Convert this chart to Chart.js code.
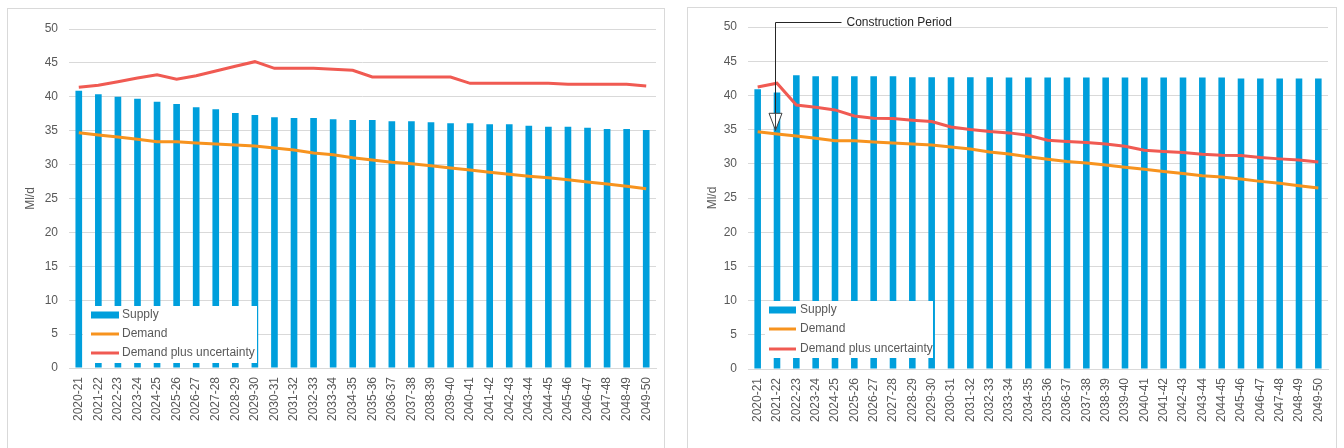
<!DOCTYPE html>
<html>
<head>
<meta charset="utf-8">
<script src="https://cdn.jsdelivr.net/npm/chart.js@4"></script>
<style>
  body { margin: 0; background: #fff; }
  .panel { position: absolute; border: 1px solid #d9d9d9; overflow: hidden; background: #fff; }
  #panel-a { left: 7px; top: 8px; width: 656px; height: 440px; }
  #panel-b { left: 687px; top: 7px; width: 648px; height: 440px; }
</style>
</head>
<body>
<div class="panel" id="panel-a"><canvas id="chart-a" width="656" height="440"></canvas></div>
<div class="panel" id="panel-b"><canvas id="chart-b" width="648" height="440"></canvas></div>
<script>
// Supply / demand balance, without and with the new scheme

const years = [
  '2020-21','2021-22','2022-23','2023-24','2024-25','2025-26','2026-27','2027-28','2028-29','2029-30',
  '2030-31','2031-32','2032-33','2033-34','2034-35','2035-36','2036-37','2037-38','2038-39','2039-40',
  '2040-41','2041-42','2042-43','2043-44','2044-45','2045-46','2046-47','2047-48','2048-49','2049-50'
];

const demand = [
  34.7, 34.37, 34.07, 33.73, 33.38, 33.38, 33.19, 33.04, 32.89, 32.74,
  32.45, 32.15, 31.71, 31.44, 31.02, 30.68, 30.33, 30.13, 29.84, 29.5,
  29.2, 28.86, 28.57, 28.27, 28.07, 27.77, 27.43, 27.14, 26.8, 26.45
];

// left chart
const supplyA = [
  40.9, 40.37, 40.02, 39.72, 39.28, 38.94, 38.45, 38.16, 37.61, 37.32,
  36.97, 36.87, 36.87, 36.7, 36.58, 36.58, 36.38, 36.38, 36.23, 36.09,
  36.09, 35.94, 35.94, 35.74, 35.59, 35.59, 35.44, 35.25, 35.25, 35.1
];
const demandUncA = [
  41.4, 41.69, 42.23, 42.77, 43.26, 42.58, 43.1, 43.8, 44.5, 45.18,
  44.2, 44.2, 44.2, 44.05, 43.9, 42.92, 42.92, 42.92, 42.92, 42.92,
  41.99, 41.99, 41.99, 41.99, 41.99, 41.84, 41.84, 41.84, 41.84, 41.6
];

// right chart
const supplyB = [
  40.9, 40.42, 42.95, 42.8, 42.8, 42.8, 42.8, 42.8, 42.65, 42.65,
  42.65, 42.65, 42.65, 42.62, 42.6, 42.6, 42.6, 42.6, 42.6, 42.6,
  42.6, 42.6, 42.6, 42.6, 42.6, 42.46, 42.46, 42.46, 42.46, 42.46
];
const demandUncB = [
  41.24, 41.78, 38.6, 38.27, 37.88, 37.0, 36.66, 36.62, 36.37, 36.18,
  35.39, 35.01, 34.72, 34.52, 34.18, 33.45, 33.26, 33.11, 32.91, 32.57,
  31.99, 31.8, 31.65, 31.4, 31.26, 31.21, 30.92, 30.72, 30.57, 30.28
];

const yTicks = { min: 0, max: 50, step: 5 };
const constructionIdx = 1;   // 2021-22
const arrowTop = 50.8, arrowTip = 34.9;

const BLUE = '#009fdc', ORANGE = '#f7931e', RED = '#f05a52';
const GRID = '#d9d9d9', TEXT = '#595959';
const FONT = "'Liberation Sans', Arial, sans-serif";

// White legend box drawn over the bars, bottom-left of the plot
const boxLegend = {
  id: 'boxLegend',
  afterDatasetsDraw(chart, args, o) {
    const { ctx, chartArea } = chart;
    const x = chartArea.left + o.dx, y = chartArea.bottom - o.dy - o.h;
    ctx.save();
    ctx.fillStyle = '#fff';
    ctx.fillRect(x, y, o.w, o.h);
    ctx.font = '12px ' + FONT;
    ctx.textBaseline = 'middle';
    chart.data.datasets.forEach((ds, i) => {
      const cy = y + o.rows[i];
      if (ds.type === 'bar') {
        ctx.fillStyle = ds.backgroundColor;
        ctx.fillRect(x + o.sx, cy - 3.5, o.sw, 7);
      } else {
        ctx.strokeStyle = ds.borderColor;
        ctx.lineWidth = 3;
        ctx.beginPath();
        ctx.moveTo(x + o.sx, cy);
        ctx.lineTo(x + o.sx + o.sw, cy);
        ctx.stroke();
      }
      ctx.fillStyle = TEXT;
      ctx.fillText(ds.label, x + o.tx, cy);
    });
    ctx.restore();
  }
};

// "Construction Period" call-out with open arrow
const callout = {
  id: 'callout',
  afterDraw(chart, args, o) {
    if (!o.text) return;
    const { ctx, scales: { x, y } } = chart;
    const ax = Math.round(x.getPixelForValue(o.index)) - 1.5;
    const top = Math.round(y.getPixelForValue(o.top)) + 0.5;
    const tip = y.getPixelForValue(o.tip);
    ctx.save();
    ctx.strokeStyle = '#262626';
    ctx.lineWidth = 1;
    ctx.beginPath();
    ctx.moveTo(ax + 66, top);
    ctx.lineTo(ax, top);
    ctx.lineTo(ax, tip);
    ctx.stroke();
    ctx.beginPath();
    ctx.moveTo(ax - 6.5, tip - 17);
    ctx.lineTo(ax + 6.5, tip - 17);
    ctx.lineTo(ax, tip);
    ctx.closePath();
    ctx.fillStyle = '#fff';
    ctx.fill();
    ctx.strokeStyle = '#404040';
    ctx.stroke();
    ctx.beginPath();
    ctx.moveTo(ax, tip - 17);
    ctx.lineTo(ax, tip);
    ctx.stroke();
    ctx.fillStyle = '#262626';
    ctx.font = '12px ' + FONT;
    ctx.textBaseline = 'middle';
    ctx.fillText(o.text, ax + 71, top);
    ctx.restore();
  }
};

function makeChart(id, supply, demandUnc, lay) {
  return new Chart(document.getElementById(id), {
    data: {
      labels: years,
      datasets: [
        { type: 'bar', label: 'Supply', data: supply, backgroundColor: BLUE,
          categoryPercentage: 1, barPercentage: 0.34, order: 3 },
        { type: 'line', label: 'Demand', data: demand, borderColor: ORANGE, backgroundColor: ORANGE,
          borderWidth: 3, pointRadius: 0, tension: 0, order: 2 },
        { type: 'line', label: 'Demand plus uncertainty', data: demandUnc, borderColor: RED, backgroundColor: RED,
          borderWidth: 3, pointRadius: 0, tension: 0, order: 1 },
      ]
    },
    options: {
      responsive: false, animation: false,
      layout: { padding: { top: lay.top, right: 8, left: 0, bottom: 0 } },
      scales: {
        x: {
          offset: true,
          grid: { display: false, drawTicks: false },
          border: { display: true, color: GRID },
          ticks: { color: TEXT, font: { family: FONT, size: 12 }, minRotation: 90, maxRotation: 90,
                   padding: 9, autoSkip: false },
          afterFit: s => { s.height = lay.xh; s.paddingLeft = 0; s.paddingRight = 0; }
        },
        y: {
          min: yTicks.min, max: yTicks.max,
          grid: { color: GRID, drawTicks: false },
          border: { display: false },
          ticks: { stepSize: yTicks.step, color: TEXT, font: { family: FONT, size: 12 }, padding: 11 },
          title: { display: true, text: 'Ml/d', color: TEXT, font: { family: FONT, size: 12 },
                   padding: { top: lay.tp, bottom: 0 } },
          afterFit: s => { s.width = lay.yw; s.paddingTop = 0; s.paddingBottom = 0; }
        }
      },
      plugins: {
        legend: { display: false },
        tooltip: { enabled: false },
        boxLegend: lay.legend,
        callout: lay.callout || {}
      }
    },
    plugins: [boxLegend, callout]
  });
}

makeChart('chart-a', supplyA, demandUncA, {
  top: 20, xh: 81, yw: 61, tp: 15,
  legend: { dx: 14, dy: 5, w: 174, h: 57, rows: [9, 28, 47], sx: 8, sw: 28, tx: 39 }
});

makeChart('chart-b', supplyB, demandUncB, {
  top: 19, xh: 79, yw: 60, tp: 17,
  legend: { dx: 17, dy: 11, w: 168, h: 57, rows: [9, 28, 48], sx: 4, sw: 27, tx: 35 },
  callout: { text: 'Construction Period', index: constructionIdx, top: arrowTop, tip: arrowTip }
});
</script>
</body>
</html>
